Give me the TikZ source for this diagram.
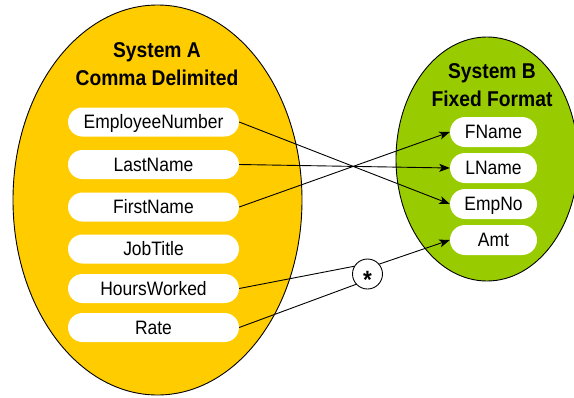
\documentclass[tikz,border=0pt]{standalone}
\usepackage{fontspec}
\setmainfont[FakeStretch=0.9]{Liberation Sans}
\usetikzlibrary{arrows.meta}
\definecolor{sysA}{HTML}{FFCC00}
\definecolor{sysB}{HTML}{99CC00}
\tikzset{
  sysellipse/.style={draw=black, line width=0.9pt},
  pillA/.style={fill=white, rounded corners=14.5pt, minimum width=171pt, minimum height=29pt,
    inner sep=0pt, text height=13.8pt, text depth=0pt, font=\fontsize{19.4}{20}\selectfont},
  pillB/.style={fill=white, rounded corners=15pt, minimum width=87pt, minimum height=30pt,
    inner sep=0pt, text height=13.8pt, text depth=0pt, font=\fontsize{19.4}{20}\selectfont},
  titletext/.style={align=center, inner sep=0pt, font=\bfseries\fontsize{21.4}{28}\selectfont},
  opnode/.style={circle, draw=black, fill=white, line width=0.9pt, minimum size=30pt, inner sep=0pt,
    text height=28pt, text depth=0pt, font=\bfseries\fontsize{25}{25}\selectfont},
  link/.style={draw=black, line width=0.9pt},
  arr/.style={link, -{Stealth[length=10.5pt,width=8pt,inset=2.5pt]}}
}
\begin{document}
\begin{tikzpicture}[x=1pt,y=-1pt]
\useasboundingbox (0,0) rectangle (574,397);
% ellipses
\fill[sysA] (157.5,200) ellipse [x radius=144.5, y radius=195];
\draw[sysellipse] (157.5,200) ellipse [x radius=144.5, y radius=195];
\fill[sysB] (487,159) ellipse [x radius=91, y radius=122];
\draw[sysellipse] (487,159) ellipse [x radius=91, y radius=122];
% titles
\node[titletext] (titleA) at (157,64) {System A\\Comma Delimited};
\node[titletext] (titleB) at (492,85) {System B\\Fixed Format};
% system A fields
\node[pillA] (emp) at (153.5,122) {EmployeeNumber};
\node[pillA] (last) at (153.5,164.5) {LastName};
\node[pillA] (first) at (153.5,207) {FirstName};
\node[pillA] (job) at (153.5,249) {JobTitle};
\node[pillA] (hours) at (153.5,288.5) {HoursWorked};
\node[pillA] (rate) at (153.5,327.5) {Rate};
% system B fields
\node[pillB] (bfirst) at (493.5,132) {FName};
\node[pillB] (blast) at (493.5,168) {LName};
\node[pillB] (bemp) at (493.5,204) {EmpNo};
\node[pillB] (amt) at (493.5,240) {Amt};
% operator
\node[opnode] (star) at (367.5,274) {*};
% connectors
\draw[arr] (emp.east) -- (bemp.west);
\draw[arr] (last.east) -- (blast.west);
\draw[arr] (first.east) -- (bfirst.west);
\draw[link] (hours.east) -- (star.150);
\draw[link] (rate.east) -- (star.222);
\draw[arr] (star.40) -- (amt.west);
\end{tikzpicture}
\end{document}
